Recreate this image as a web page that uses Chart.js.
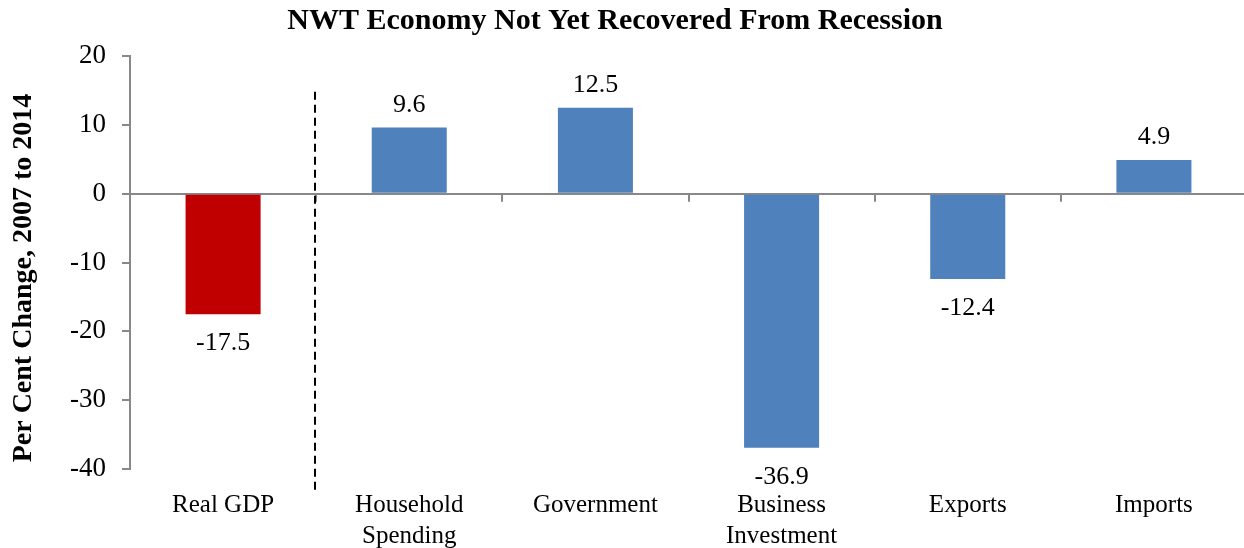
<!DOCTYPE html>
<html>
<head>
<meta charset="utf-8">
<script src="https://cdn.jsdelivr.net/npm/chart.js@4"></script>
<style>
  html, body { margin: 0; padding: 0; background: #fff; overflow: hidden; }
  #wrap { width: 1250px; height: 548px; }
</style>
</head>
<body>
<div id="wrap"><canvas id="c"></canvas></div>
<script>
const chartTitle = 'NWT Economy Not Yet Recovered From Recession';
const yAxisTitle = 'Per Cent Change, 2007 to 2014';
const categories = ['Real GDP', ['Household', 'Spending'], 'Government', ['Business', 'Investment'], 'Exports', 'Imports'];
const changes = [-17.5, 9.6, 12.5, -36.9, -12.4, 4.9];
const barColors = ['#C00000', '#4F81BD', '#4F81BD', '#4F81BD', '#4F81BD', '#4F81BD'];
const yTicks = [20, 10, 0, -10, -20, -30, -40];

const FONT = '"Liberation Serif", "Times New Roman", serif';
const AXIS_GREY = '#888888';

// Title, rotated axis title, zero-line tick marks, separator and value labels
const decorations = {
  id: 'decorations',
  afterDatasetsDraw(chart) {
    const { ctx, scales } = chart;
    const x = scales.x, y = scales.y;
    const y0 = y.getPixelForValue(0);
    ctx.save();

    // chart title
    ctx.fillStyle = '#000';
    ctx.font = 'bold 30px ' + FONT;
    ctx.textAlign = 'center';
    ctx.textBaseline = 'middle';
    ctx.fillText(chartTitle, 615, 21);

    // y-axis title
    ctx.save();
    ctx.translate(24, 278);
    ctx.rotate(-Math.PI / 2);
    ctx.font = 'bold 28px ' + FONT;
    ctx.fillText(yAxisTitle, 0, 0);
    ctx.restore();

    // tick marks on the zero line between categories
    ctx.strokeStyle = AXIS_GREY;
    ctx.lineWidth = 2;
    for (let i = 0; i < changes.length; i++) {
      const px = Math.round(x.getPixelForValue(i + 0.5));
      ctx.beginPath();
      ctx.moveTo(px, y0);
      ctx.lineTo(px, y0 + 8);
      ctx.stroke();
    }

    // dashed separator between GDP and its components
    const sx = Math.round(x.getPixelForValue(0.5)) - 1;
    ctx.strokeStyle = '#000';
    ctx.lineWidth = 2;
    ctx.setLineDash([8, 5]);
    ctx.beginPath();
    ctx.moveTo(sx, y.getPixelForValue(14.8));
    ctx.lineTo(sx, y.getPixelForValue(-43));
    ctx.stroke();
    ctx.setLineDash([]);

    // value labels outside bar ends
    ctx.fillStyle = '#000';
    ctx.font = '26px ' + FONT;
    ctx.textAlign = 'center';
    ctx.textBaseline = 'alphabetic';
    const meta = chart.getDatasetMeta(0);
    meta.data.forEach((bar, i) => {
      const v = changes[i];
      const label = v.toFixed(1);
      ctx.fillText(label, bar.x, v >= 0 ? bar.y - 16 : bar.y + 36);
    });
    ctx.restore();
  }
};

new Chart(document.getElementById('c'), {
  type: 'bar',
  data: {
    labels: categories,
    datasets: [{
      data: changes,
      backgroundColor: barColors,
      borderWidth: 0,
      categoryPercentage: 1,
      barPercentage: 0.403
    }]
  },
  options: {
    responsive: true,
    maintainAspectRatio: false,
    animation: false,
    devicePixelRatio: 1,
    layout: { padding: { top: 56, right: 3, left: 0, bottom: 0 } },
    plugins: {
      legend: { display: false },
      tooltip: { enabled: false },
      title: { display: false }
    },
    scales: {
      x: {
        offset: true,
        border: { display: false },
        grid: { display: false, drawTicks: false },
        ticks: {
          color: '#000',
          font: { family: FONT, size: 25, lineHeight: 1.25 },
          padding: 21,
          maxRotation: 0,
          autoSkip: false
        },
        afterFit(scale) { scale.height = 79; }
      },
      y: {
        min: -40,
        max: 20,
        afterBuildTicks(scale) { scale.ticks = yTicks.map(v => ({ value: v })); },
        border: { display: true, color: AXIS_GREY, width: 2 },
        grid: {
          drawOnChartArea: true,
          drawTicks: true,
          tickLength: 8,
          lineWidth: 2,
          tickColor: AXIS_GREY,
          color: ctx => (ctx.tick && ctx.tick.value === 0 ? AXIS_GREY : 'rgba(0,0,0,0)')
        },
        ticks: {
          color: '#000',
          font: { family: FONT, size: 27 },
          padding: 16
        },
        afterFit(scale) { scale.width = 130; }
      }
    }
  },
  plugins: [decorations]
});
</script>
</body>
</html>
